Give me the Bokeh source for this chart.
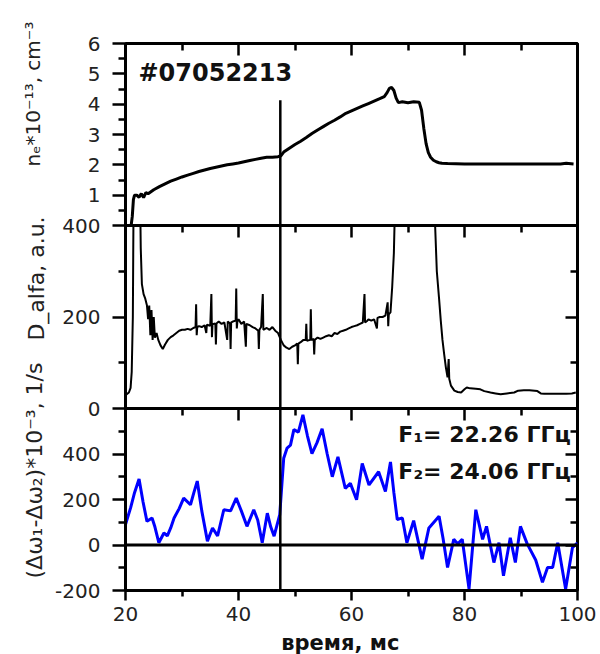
from math import pi
from bokeh.plotting import figure
from bokeh.models import Range1d, LinearAxis, FixedTicker, Span, Label, CustomLabelingPolicy
from bokeh.layouts import row, column
from bokeh.embed import file_html
from bokeh.resources import INLINE
from bokeh.core.properties import value

# ---------------- data ----------------
shot_label = "#07052213"
marker_t = 47.4            # time of the vertical marker, ms
marker_ne_top = 4.13       # height of marker in the density panel

ne_t = [21.0, 21.2, 21.4, 21.6, 22.0, 22.4, 22.8, 23.2, 23.6, 24.0, 25.0, 26.0, 27.0, 28.0,
        29.0, 30.0, 31.0, 32.0, 33.0, 34.0, 35.0, 36.0, 37.0, 38.0, 39.0, 40.0, 41.0, 42.0,
        43.0, 44.0, 45.0, 46.0, 47.0, 47.5, 48.0, 49.0, 50.0, 51.0, 52.0, 53.0, 54.0, 55.0,
        56.0, 57.0, 58.0, 59.0, 60.0, 61.0, 62.0, 63.0, 64.0, 65.0, 65.8, 66.3, 66.7, 67.1,
        67.5, 67.9, 68.3, 69.0, 70.0, 71.0, 72.0, 72.4, 72.8, 73.2, 73.6, 74.0, 74.5, 75.0,
        75.5, 76.0, 77.0, 80.0, 85.0, 90.0, 95.0, 97.0, 98.0, 99.3]
ne_v = [0.0, 0.3, 0.85, 1.0, 1.0, 0.93, 1.05, 0.92, 1.08, 1.05, 1.18, 1.28, 1.37, 1.46,
        1.53, 1.6, 1.66, 1.72, 1.78, 1.83, 1.88, 1.92, 1.96, 2.0, 2.03, 2.06, 2.1, 2.14,
        2.18, 2.22, 2.25, 2.25, 2.27, 2.3, 2.42, 2.55, 2.67, 2.78, 2.9, 3.03, 3.15, 3.26,
        3.37, 3.47, 3.58, 3.7, 3.78, 3.86, 3.94, 4.02, 4.1, 4.18, 4.25, 4.38, 4.52, 4.55,
        4.45, 4.2, 4.05, 4.08, 4.05, 4.08, 4.06, 3.8, 3.2, 2.7, 2.4, 2.25, 2.15, 2.1,
        2.07, 2.05, 2.04, 2.03, 2.03, 2.03, 2.03, 2.03, 2.05, 2.03]

da_t = [20.1, 20.6, 20.9, 21.1, 21.3, 21.45, 22.55, 22.7, 22.9, 23.2, 23.5, 23.8, 24.0, 24.2,
        24.4, 24.6, 24.8, 25.0, 25.2, 25.5, 25.8, 26.2, 26.6, 27.0, 27.5, 28.0, 28.5, 29.0,
        29.5, 30.0, 30.5, 31.0, 31.5, 32.0, 32.4, 32.5, 32.6, 32.7, 33.0, 33.5, 34.0, 34.3,
        34.4, 35.0, 35.2, 35.3, 35.4, 35.9, 36.0, 36.1, 36.5, 37.0, 37.5, 38.0, 38.1, 38.5,
        38.6, 38.7, 39.0, 39.5, 39.6, 39.7, 39.8, 40.0, 40.5, 41.0, 41.3, 41.4, 42.0, 42.5,
        43.0, 43.5, 43.6, 43.7, 44.0, 44.3, 44.4, 45.0, 45.5, 46.0, 46.5, 47.0, 47.5, 48.0,
        48.5, 49.0, 49.5, 50.0, 50.4, 50.5, 50.6, 51.0, 51.5, 51.9, 52.0, 52.1, 52.7, 52.8,
        52.9, 53.3, 53.4, 53.5, 54.0, 54.5, 55.0, 55.5, 56.0, 56.5, 57.0, 57.5, 58.0, 58.5,
        59.0, 59.5, 60.0, 60.5, 61.0, 61.5, 62.0, 62.3, 62.4, 62.8, 63.0, 63.5, 64.0, 64.5,
        64.6, 65.0, 65.5, 66.0, 66.4, 66.5, 66.6, 66.9, 67.2, 67.5, 67.8, 74.5, 74.8, 75.1,
        75.5, 75.8, 76.1, 76.4, 76.7, 77.0, 77.2, 77.3, 77.6, 78.2, 78.8, 79.4, 80.0, 80.4,
        81.0, 82.0, 82.8, 83.5, 84.6, 85.5, 86.4, 87.5, 88.8, 89.5, 90.5, 91.5, 92.9, 93.5,
        94.1, 96.0, 98.0, 99.0, 99.7]
da_v = [30, 35, 45, 80, 200, 500, 500, 350, 272, 250, 240, 225, 195, 225,
        160, 215, 150, 200, 155, 165, 150, 138, 130, 140, 150, 156, 160, 165,
        170, 172, 172, 174, 172, 176, 178, 228, 160, 178, 180, 178, 182, 165,
        183, 181, 250, 156, 184, 186, 140, 186, 190, 185, 188, 150, 190, 186,
        130, 188, 190, 192, 262, 175, 190, 195, 185, 190, 135, 185, 182, 178,
        175, 170, 130, 172, 178, 250, 172, 176, 172, 178, 170, 165, 150, 138,
        133, 130, 135, 138, 142, 97, 142, 145, 150, 150, 185, 148, 150, 217,
        150, 152, 118, 150, 155, 152, 155, 158, 160, 158, 165, 163, 168, 170,
        172, 175, 178, 180, 182, 185, 188, 250, 188, 192, 195, 192, 195, 175,
        198, 200, 200, 203, 232, 180, 206, 210, 265, 340, 500, 500, 400, 300,
        240, 192, 150, 119, 90, 68, 108, 65, 50, 39, 36, 35, 42, 46,
        44, 43, 42, 38, 35, 33, 31, 33, 35, 39, 40, 40, 38, 33,
        32, 32, 32, 33, 35]

dw_t = [20.0, 20.9, 21.6, 22.4, 23.1, 23.8, 24.7, 25.2, 25.9, 26.8, 27.4, 28.0, 28.6, 29.5,
        30.3, 31.5, 32.1, 32.7, 33.5, 34.5, 35.4, 36.3, 37.4, 38.6, 39.6, 40.5, 41.5, 42.7,
        43.4, 44.2, 45.1, 45.7, 46.3, 47.3, 48.0, 48.6, 49.2, 49.8, 50.6, 51.4, 52.2, 53.0,
        53.9, 54.8, 55.7, 56.6, 57.6, 58.9, 59.8, 60.9, 61.9, 63.1, 64.8, 66.0, 66.9, 67.5,
        68.1, 69.0, 69.8, 71.0, 72.5, 73.7, 75.5, 76.2, 77.0, 78.1, 78.8, 79.6, 80.8, 82.0,
        83.2, 83.9, 85.2, 86.1, 86.9, 88.1, 89.0, 89.9, 91.1, 92.6, 93.8, 94.7, 95.6, 96.5,
        97.9, 99.1, 100.0]
dw_v = [90, 163, 230, 290, 190, 104, 119, 80, 10, 53, 40, 75, 119, 160,
        206, 177, 230, 281, 150, 17, 75, 40, 155, 150, 206, 150, 82, 155,
        110, 10, 140, 80, 39, 133, 381, 426, 439, 507, 496, 572, 480, 402,
        450, 511, 400, 300, 387, 249, 271, 199, 358, 264, 322, 235, 365, 230,
        112, 119, 10, 107, -62, 75, 126, 30, -99, 25, 5, 25, -193, 155,
        25, 82, -77, 10, -135, 32, -77, 82, 5, -66, -164, -99, -99, 10,
        -193, -12, 10]

x_major = [20, 40, 60, 80, 100]
x_minor = [30, 50, 70, 90]
ne_ticks = [1, 2, 3, 4, 5, 6]
ne_minor = [0.5, 1.5, 2.5, 3.5, 4.5, 5.5]
da_ticks = [0, 200, 400]
da_minor = [100, 300]
dw_ticks = [-200, 0, 200, 400]
dw_minor = [-100, 100, 300, 500]
dw_tick_text = {-200: "-200"}     # plain hyphen as in the original

x_title = "время, мс"
y_title_ne = "nₑ*10⁻¹³, cm⁻³"
y_title_da = "D_alfa, a.u."
y_title_dw = "(Δω₁-Δω₂)*10⁻³, 1/s"
freq_lines = ["F₁= 22.26 ГГц", "F₂= 24.06 ГГц"]
freq_y = [484, 322]

# ---------------- style ----------------
FONT = "DejaVu Sans"
TICK_COLOR = "#222222"
EDGE = 12                  # extra border that overlaps the neighbouring panel
H = 654
PW = 547                   # panel figure width
XT_H = 26                  # height of the strip holding the x title
xr = Range1d(20, 100)
NO_LABELS = CustomLabelingPolicy(code="return new Set()")


def make_panel(height, yr, top_b, bottom_b):
    p = figure(width=PW, height=height, x_range=xr, y_range=Range1d(*yr),
               output_backend="svg", toolbar_location=None,
               x_axis_location=None, y_axis_location=None,
               min_border_left=75, min_border_right=20,
               min_border_top=top_b, min_border_bottom=bottom_b)
    p.grid.visible = False
    p.outline_line_color = "black"
    p.outline_line_width = 3
    p.background_fill_color = None
    p.border_fill_color = None
    return p


def add_top_axis(p):
    ax = LinearAxis(ticker=FixedTicker(ticks=x_major, minor_ticks=x_minor))
    ax.major_tick_in = 12
    ax.major_tick_out = 0
    ax.minor_tick_in = 7
    ax.minor_tick_out = 0
    ax.major_label_policy = NO_LABELS
    ax.major_label_text_font_size = "1px"
    ax.major_label_standoff = 0
    ax.axis_line_color = None
    ax.major_tick_line_width = 2.5
    ax.minor_tick_line_width = 2.5
    p.add_layout(ax, "above")


def add_left_axis(p, ticks, minor, overrides=None):
    ax = LinearAxis(ticker=FixedTicker(ticks=ticks, minor_ticks=minor))
    ax.major_tick_out = 13
    ax.major_tick_in = 0
    ax.minor_tick_out = 7
    ax.minor_tick_in = 0
    ax.major_tick_line_width = 2.5
    ax.minor_tick_line_width = 2.5
    ax.axis_line_width = 3
    ax.major_label_text_font = FONT
    ax.major_label_text_font_size = "20px"
    ax.major_label_text_color = TICK_COLOR
    ax.major_label_standoff = 12
    if overrides:
        ax.major_label_overrides = overrides
    p.add_layout(ax, "left")


def add_right_axis(p, ticks, minor):
    ax = LinearAxis(ticker=FixedTicker(ticks=ticks, minor_ticks=minor))
    ax.major_tick_in = 12
    ax.major_tick_out = 0
    ax.minor_tick_in = 7
    ax.minor_tick_out = 0
    ax.major_tick_line_width = 2.5
    ax.minor_tick_line_width = 2.5
    ax.axis_line_color = None
    ax.major_label_policy = NO_LABELS
    ax.major_label_text_font_size = "1px"
    ax.major_label_standoff = 0
    p.add_layout(ax, "right")


# ---------------- top panel: density ----------------
p1 = make_panel(43 + 182 + EDGE, (0, 6), 43, EDGE)
add_top_axis(p1)
add_left_axis(p1, ne_ticks, ne_minor)
p1.line(ne_t, ne_v, line_color="black", line_width=3)
p1.segment(x0=[marker_t], y0=[0], x1=[marker_t], y1=[marker_ne_top],
           line_color="black", line_width=2.5)
p1.add_layout(Label(x=22.3, y=5.02, text=shot_label, text_font=FONT,
                    text_font_size="24px", text_font_style="bold",
                    text_baseline="middle", text_align="left", text_color="#111111"))

# ---------------- middle panel: D_alpha ----------------
p2 = make_panel(EDGE + 183 + EDGE, (0, 400), EDGE, EDGE)
p2.margin = (-2 * EDGE, 0, 0, 0)
add_top_axis(p2)
add_left_axis(p2, da_ticks, da_minor)
add_right_axis(p2, da_ticks, da_minor)
p2.line(da_t, da_v, line_color="black", line_width=2)
p2.add_layout(Span(location=marker_t, dimension="height", line_color="black", line_width=2.5))

# ---------------- bottom panel: frequency difference ----------------
bottom_border = H - (43 + 182 + 183 + 182) - XT_H
p3 = make_panel(EDGE + 182 + bottom_border, (-200, 600), EDGE, bottom_border)
p3.margin = (-2 * EDGE, 0, 0, 0)
add_top_axis(p3)
add_left_axis(p3, dw_ticks, dw_minor, overrides=dw_tick_text)
add_right_axis(p3, dw_ticks, dw_minor)
xb = LinearAxis(ticker=FixedTicker(ticks=x_major, minor_ticks=x_minor))
xb.major_tick_out = 10
xb.major_tick_in = 0
xb.minor_tick_out = 6
xb.minor_tick_in = 0
xb.major_tick_line_width = 2.5
xb.minor_tick_line_width = 2.5
xb.axis_line_width = 3
xb.major_label_text_font = FONT
xb.major_label_text_font_size = "20px"
xb.major_label_text_color = TICK_COLOR
xb.major_label_standoff = 6
p3.add_layout(xb, "below")
p3.add_layout(Span(location=0, dimension="width", line_color="black", line_width=3))
p3.add_layout(Span(location=marker_t, dimension="height", line_color="black", line_width=2.5))
p3.line(dw_t, dw_v, line_color="#0000ff", line_width=3)
for txt, yy in zip(freq_lines, freq_y):
    p3.add_layout(Label(x=98.8, y=yy, text=txt, text_font=FONT, text_font_size="22px",
                        text_font_style="bold", text_align="right",
                        text_baseline="alphabetic", text_color="#111111"))

# ---------------- x title strip ----------------
px = figure(width=PW, height=XT_H, x_range=Range1d(0, PW), y_range=Range1d(0, XT_H),
            output_backend="svg", toolbar_location=None,
            x_axis_location=None, y_axis_location=None,
            min_border_left=0, min_border_right=0, min_border_top=0, min_border_bottom=0)
px.grid.visible = False
px.outline_line_color = None
px.background_fill_color = None
px.border_fill_color = None
px.text(x=[260], y=[12], text=[x_title], text_align="center", text_baseline="alphabetic",
        text_font=value(FONT), text_font_size="21px", text_font_style="bold",
        text_color="#111111")

# ---------------- y titles (left strip) ----------------
pt = figure(width=50, height=H, x_range=Range1d(0, 50), y_range=Range1d(0, H),
            output_backend="svg", toolbar_location=None,
            x_axis_location=None, y_axis_location=None,
            min_border_left=0, min_border_right=0, min_border_top=0, min_border_bottom=0)
pt.grid.visible = False
pt.outline_line_color = None
pt.background_fill_color = None
pt.border_fill_color = None
pt.text(x=[32, 36, 34], y=[H - 93.5, H - 278, H - 470],
        text=[y_title_ne, y_title_da, y_title_dw],
        angle=pi / 2, text_align="center", text_baseline="alphabetic",
        text_font=value(FONT), text_font_size=["20px", "22px", "22px"],
        text_color="#222222")

layout = row(pt, column(p1, p2, p3, px))
open("out.html", "w").write(file_html(layout, INLINE))
